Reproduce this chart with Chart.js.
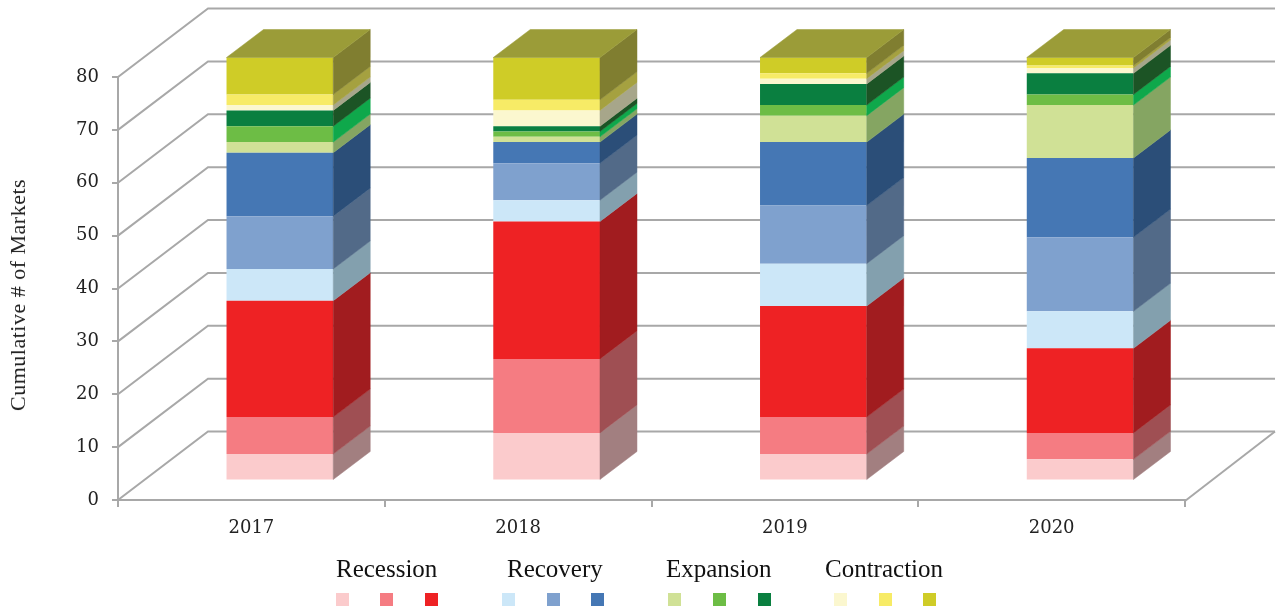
<!DOCTYPE html>
<html>
<head>
<meta charset="utf-8">
<title>Cumulative # of Markets</title>
<script src="https://cdn.jsdelivr.net/npm/chart.js@4"></script>
<style>
    html, body { margin: 0; padding: 0; background: #fff; }
    #wrap { position: relative; width: 1281px; height: 610px; overflow: hidden; }
    #wrap canvas { position: absolute; left: 0; top: 0; }
    .phase { position: absolute; top: 555px; font: 25px "Liberation Serif", serif; color: #111; white-space: nowrap; }
    .swatch { position: absolute; top: 593px; width: 13px; height: 13px; }
    #yTitle {
        position: absolute; left: 18px; top: 295px; white-space: nowrap; color: #222;
        font: 22px "Liberation Serif", serif; letter-spacing: 0.5px;
        transform: translate(-50%, -50%) rotate(-90deg);
    }
</style>
</head>
<body>
<div id="wrap">
    <canvas id="marketChart" width="1281" height="610"></canvas>
    <div id="yTitle">Cumulative # of Markets</div>
</div>
<script>
var years = ["2017", "2018", "2019", "2020"];

// market counts per cycle stage, bottom of the stack first
var recessionLow = [5, 9, 5, 4];
var recessionMid = [7, 14, 7, 5];
var recessionHigh = [22, 26, 21, 16];
var recoveryLow = [6, 4, 8, 7];
var recoveryMid = [10, 7, 11, 14];
var recoveryHigh = [12, 4, 12, 15];
var expansionLow = [2, 1, 5, 10];
var expansionMid = [3, 1, 2, 2];
var expansionHigh = [3, 1, 4, 4];
var contractionLow = [1, 3, 1, 1];
var contractionMid = [2, 2, 1, 0.5];
var contractionHigh = [7, 8, 3, 1.5];

var phaseNames = ["Recession", "Recovery", "Expansion", "Contraction"];
var phaseLeft = [336, 507, 666, 825];
var swatchLeft = [336, 380, 425, 502, 547, 591, 668, 713, 758, 834, 879, 923];

var frontColors = ["#fbcbcc", "#f57c82", "#ee2224", "#cce7f8", "#7fa1ce", "#4577b4",
    "#d0e196", "#6dbd45", "#0a7f40", "#fbf7cf", "#f7eb66", "#cfcc27"];
var sideColors = ["#a27f80", "#9f4f53", "#a11c1f", "#83a0ae", "#526a88", "#2b4e78",
    "#85a562", "#0fa84b", "#1c5425", "#a7a68a", "#a5a140", "#807e30"];
var topColor = "#9b9c38";
var gridColor = "#a8a8a8";

var stacks = [recessionLow, recessionMid, recessionHigh, recoveryLow, recoveryMid, recoveryHigh,
    expansionLow, expansionMid, expansionHigh, contractionLow, contractionMid, contractionHigh];

// depth of the floor and of the bars, plus where the bars sit on the floor
var wallDepth = { x: 90, y: -68.5 };
var barDepth = { x: 37, y: -28 };
var barShift = { x: 28.5, y: -19.5 };

var datasets = stacks.map(function (values, i) {
    return {
        data: values,
        backgroundColor: frontColors[i],
        borderWidth: 0,
        barPercentage: 0.4,
        categoryPercentage: 1,
        clip: false
    };
});

function line(ctx, points) {
    ctx.beginPath();
    ctx.moveTo(points[0][0], points[0][1]);
    for (var i = 1; i < points.length; i++) {
        ctx.lineTo(points[i][0], points[i][1]);
    }
    ctx.stroke();
}

function quad(ctx, x1, y1, x2, y2, color) {
    ctx.fillStyle = color;
    ctx.strokeStyle = color;
    ctx.lineWidth = 0.5;
    ctx.beginPath();
    ctx.moveTo(x1, y1);
    ctx.lineTo(x2, y2);
    ctx.lineTo(x2 + barDepth.x, y2 + barDepth.y);
    ctx.lineTo(x1 + barDepth.x, y1 + barDepth.y);
    ctx.closePath();
    ctx.fill();
    ctx.stroke();
}

var box3d = {
    id: "box3d",
    beforeDatasetsDraw: function (chart) {
        var ctx = chart.ctx;
        var yScale = chart.scales.y;
        var area = chart.chartArea;

        // side and back walls, one line per tick
        ctx.save();
        ctx.strokeStyle = gridColor;
        ctx.lineWidth = 2;
        yScale.ticks.forEach(function (tick) {
            var y = yScale.getPixelForValue(tick.value);
            line(ctx, [[area.left, y], [area.left + wallDepth.x, y + wallDepth.y], [area.right + wallDepth.x, y + wallDepth.y]]);
        });
        // floor edge on the right
        var y0 = yScale.getPixelForValue(0);
        line(ctx, [[area.right, y0 + 1], [area.right + wallDepth.x, y0 + wallDepth.y]]);
        ctx.restore();

        // bars stand further back than the axis plane
        ctx.save();
        ctx.translate(barShift.x, barShift.y);
    },
    afterDatasetsDraw: function (chart) {
        var ctx = chart.ctx;
        chart.data.datasets.forEach(function (ds, i) {
            chart.getDatasetMeta(i).data.forEach(function (bar) {
                var right = bar.x + bar.width / 2;
                quad(ctx, right, bar.base, right, bar.y, sideColors[i]);
                if (i === chart.data.datasets.length - 1) {
                    quad(ctx, bar.x - bar.width / 2, bar.y, right, bar.y, topColor);
                }
            });
        });
        ctx.restore();
    }
};

var ctx = document.getElementById("marketChart");
var marketChart = new Chart(ctx, {
    type: "bar",
    data: { labels: years, datasets: datasets },
    plugins: [box3d],
    options: {
        responsive: false,
        animation: false,
        events: [],
        layout: { padding: { left: 0, top: 77, right: 96, bottom: 0 } },
        plugins: { legend: { display: false }, tooltip: { enabled: false } },
        scales: {
            x: {
                stacked: true,
                grid: { drawOnChartArea: false, color: gridColor, lineWidth: 2, tickLength: 7 },
                border: { color: gridColor, width: 2 },
                ticks: {
                    color: "#222",
                    padding: 11,
                    maxRotation: 0,
                    font: { family: "DejaVu Serif", size: 18 }
                },
                afterFit: function (scale) { scale.height = 110; }
            },
            y: {
                stacked: true,
                min: 0,
                max: 80,
                grid: { drawOnChartArea: false, color: gridColor, lineWidth: 2, tickLength: 6 },
                border: { color: gridColor, width: 2 },
                ticks: {
                    stepSize: 10,
                    color: "#222",
                    padding: 13,
                    font: { family: "DejaVu Serif", size: 18 }
                },
                afterFit: function (scale) { scale.width = 118; }
            }
        }
    }
});

// stage titles with their three shades underneath
var wrap = document.getElementById("wrap");
phaseNames.forEach(function (name, i) {
    var title = document.createElement("div");
    title.className = "phase";
    title.style.left = phaseLeft[i] + "px";
    title.textContent = name;
    wrap.appendChild(title);
});
swatchLeft.forEach(function (left, i) {
    var box = document.createElement("div");
    box.className = "swatch";
    box.style.left = left + "px";
    box.style.background = frontColors[i];
    wrap.appendChild(box);
});
</script>
</body>
</html>
